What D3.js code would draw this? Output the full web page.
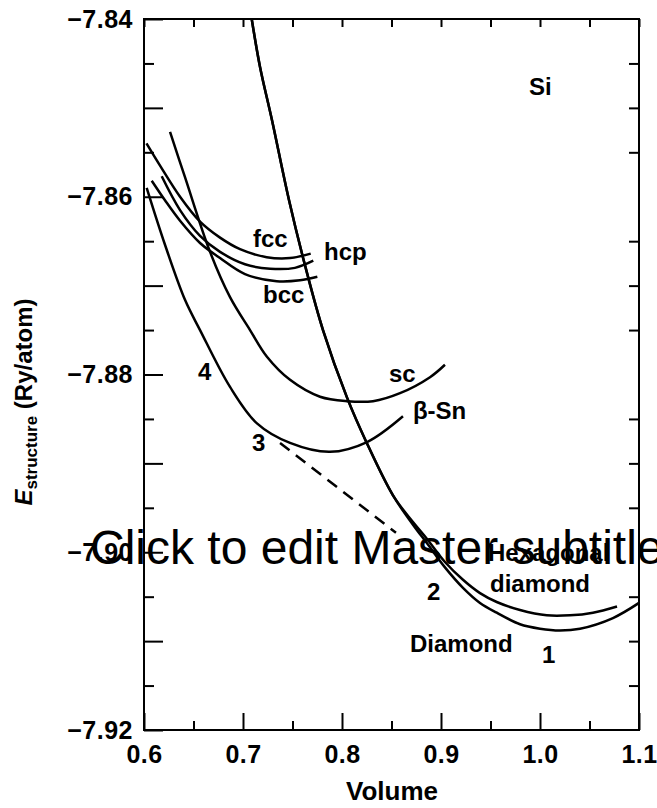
<!DOCTYPE html>
<html>
<head>
<meta charset="utf-8">
<script src="https://cdn.jsdelivr.net/npm/d3@7"></script>
<style>
  body { margin: 0; background: #fff; }
  text { font-family: "Liberation Sans", Arial, Helvetica, sans-serif; }
</style>
</head>
<body>
<div id="chart"></div>
<script>
// curves: [volume, energy (Ry/atom)]
var diamondCommon = [[0.7088, -7.8400], [0.7172, -7.8454], [0.7293, -7.8514], [0.7465, -7.8604],
   [0.7626, -7.8677], [0.7808, -7.8750], [0.8051, -7.8826], [0.8242, -7.8875], [0.8515, -7.8936]];
var diamondTail = [[0.8717, -7.8969], [0.8859, -7.8990], [0.9040, -7.9017], [0.9222, -7.9040],
   [0.9394, -7.9057], [0.9563, -7.9068], [0.9798, -7.9081], [1.0000, -7.9086], [1.0202, -7.9088],
   [1.0404, -7.9086], [1.0737, -7.9074], [1.1000, -7.9057]];
var hexTail = [[0.8717, -7.8966], [0.8859, -7.8985], [0.9040, -7.9011], [0.9222, -7.9031],
   [0.9394, -7.9046], [0.9563, -7.9056], [0.9798, -7.9065], [1.0068, -7.9071], [1.0303, -7.9071],
   [1.0535, -7.9068], [1.0778, -7.9061]];
var betaSn = [[0.6027, -7.8590], [0.6212, -7.8654], [0.6414, -7.8716], [0.6566, -7.8750],
   [0.6869, -7.8814], [0.7141, -7.8855], [0.7475, -7.8877], [0.7879, -7.8887], [0.8253, -7.8876], [0.8616, -7.8847]];
var sc = [[0.6263, -7.8527], [0.6414, -7.8578], [0.6667, -7.8662], [0.6869, -7.8713], [0.7071, -7.8750],
   [0.7242, -7.8780], [0.7475, -7.8806], [0.7778, -7.8825], [0.8051, -7.8830], [0.8313, -7.8830],
   [0.8586, -7.8821], [0.8889, -7.8803], [0.9040, -7.8789]];
var fcc = [[0.6025, -7.8540], [0.6162, -7.8565], [0.6364, -7.8600], [0.6566, -7.8628], [0.6768, -7.8646],
   [0.6970, -7.8659], [0.7239, -7.8668], [0.7475, -7.8669], [0.7684, -7.8664]];
var hcp = [[0.6179, -7.8577], [0.6364, -7.8615], [0.6566, -7.8644], [0.6768, -7.8662], [0.7020, -7.8676],
   [0.7273, -7.8681], [0.7525, -7.8680], [0.7710, -7.8672]];
var bcc = [[0.6078, -7.8582], [0.6212, -7.8604], [0.6364, -7.8627], [0.6566, -7.8652], [0.6768, -7.8669],
   [0.7020, -7.8687], [0.7340, -7.8695], [0.7576, -7.8694], [0.7751, -7.8690]];
// common tangent (dashed)
var tangent = [[0.7374, -7.8877], [0.8545, -7.8978]];

// tick values
var xMajor = [0.6, 0.7, 0.8, 0.9, 1.0, 1.1];
var xMinor = [0.65, 0.75, 0.85, 0.95, 1.05];
var yLabelled = [-7.84, -7.86, -7.88, -7.90, -7.92];
var yMajor = [-7.85, -7.87, -7.89, -7.91];
var yMinor = [-7.845, -7.855, -7.865, -7.875, -7.885, -7.895, -7.905, -7.915];

// curve labels, anchored in data space
var labels = [
   {t: 'Si', v: 0.9889, e: -7.8486}, {t: 'fcc', v: 0.7101, e: -7.8657},
   {t: 'hcp', v: 0.7818, e: -7.8671}, {t: 'bcc', v: 0.7202, e: -7.8720},
   {t: 'sc', v: 0.8475, e: -7.8808}, {t: 'β-Sn', v: 0.8717, e: -7.8850},
   {t: '4', v: 0.6545, e: -7.8806}, {t: '3', v: 0.7091, e: -7.8886},
   {t: '2', v: 0.8859, e: -7.9054}, {t: '1', v: 1.0020, e: -7.9125},
   {t: 'Hexagonal', v: 0.9475, e: -7.9010}, {t: 'diamond', v: 0.9495, e: -7.9045},
   {t: 'Diamond', v: 0.8687, e: -7.9112}
];

var W = 657, H = 808;
var pLeft = 144, pRight = 639, pTop = 19, pBottom = 730;

var svg = d3.select('#chart').append('svg').attr('width', W).attr('height', H);

var x = d3.scaleLinear().domain([0.6, 1.1]).range([pLeft, pRight]);
var y = d3.scaleLinear().domain([-7.84, -7.92]).range([pTop, pBottom]);

svg.append('clipPath').attr('id', 'plot')
   .append('rect').attr('x', pLeft).attr('y', pTop).attr('width', pRight - pLeft).attr('height', pBottom - pTop);

//ticks, all pointing inward
function styleAxis(g) {
   g.select('.domain').remove();
   g.selectAll('line').attr('stroke', '#000').attr('stroke-width', 2);
   g.selectAll('text').attr('fill', '#000').attr('font-size', '25px').attr('letter-spacing', '0.5px')
      .attr('font-weight', 'bold').attr('font-family', '"Liberation Sans", Arial, sans-serif');
}
svg.append('g').attr('transform', 'translate(0,' + pBottom + ')')
   .call(d3.axisBottom(x).tickValues(xMajor).tickSizeInner(-17).tickSizeOuter(0).tickPadding(15)
      .tickFormat(d3.format('.1f'))).call(styleAxis);
svg.append('g').attr('transform', 'translate(0,' + pBottom + ')')
   .call(d3.axisBottom(x).tickValues(xMinor).tickSizeInner(-9).tickSizeOuter(0).tickFormat('')).call(styleAxis);
svg.append('g').attr('transform', 'translate(0,' + pTop + ')')
   .call(d3.axisTop(x).tickValues(xMajor.concat(xMinor)).tickSizeInner(-8).tickSizeOuter(0).tickFormat('')).call(styleAxis);

svg.append('g').attr('transform', 'translate(' + pLeft + ',0)')
   .call(d3.axisLeft(y).tickValues(yLabelled).tickSizeInner(-19).tickSizeOuter(0).tickPadding(11)
      .tickFormat(d3.format('.2f'))).call(styleAxis);
svg.append('g').attr('transform', 'translate(' + pLeft + ',0)')
   .call(d3.axisLeft(y).tickValues(yMajor).tickSizeInner(-19).tickSizeOuter(0).tickFormat('')).call(styleAxis);
svg.append('g').attr('transform', 'translate(' + pLeft + ',0)')
   .call(d3.axisLeft(y).tickValues(yMinor).tickSizeInner(-10).tickSizeOuter(0).tickFormat('')).call(styleAxis);
svg.append('g').attr('transform', 'translate(' + pRight + ',0)')
   .call(d3.axisRight(y).tickValues(yMajor.concat(yMinor)).tickSizeInner(-10).tickSizeOuter(0).tickFormat('')).call(styleAxis);

//frame
svg.append('rect').attr('x', pLeft).attr('y', pTop).attr('width', pRight - pLeft).attr('height', pBottom - pTop)
   .attr('fill', 'none').attr('stroke', '#000').attr('stroke-width', 2);

//curves
var line = d3.line()
   .x(function (d) { return x(d[0]); })
   .y(function (d) { return y(d[1]); })
   .curve(d3.curveCatmullRom.alpha(0.5));

var curves = [diamondCommon.concat(diamondTail), diamondCommon.concat(hexTail), betaSn, sc, fcc, hcp, bcc];
svg.append('g').attr('clip-path', 'url(#plot)')
   .selectAll('path').data(curves).enter().append('path')
   .attr('d', line)
   .attr('fill', 'none').attr('stroke', '#000').attr('stroke-width', 2.5)
   .attr('stroke-linejoin', 'round');

svg.append('path').datum(tangent).attr('d', d3.line().x(function (d) { return x(d[0]); }).y(function (d) { return y(d[1]); }))
   .attr('fill', 'none').attr('stroke', '#000').attr('stroke-width', 2.5).attr('stroke-dasharray', '12,8');

//labels
svg.append('g').selectAll('text').data(labels).enter().append('text')
   .attr('x', function (d) { return x(d.v); })
   .attr('y', function (d) { return y(d.e); })
   .attr('font-size', '24px').attr('font-weight', 'bold')
   .text(function (d) { return d.t; });

//axis titles
svg.append('text').attr('x', 392).attr('y', 800).attr('text-anchor', 'middle')
   .attr('font-size', '26px').attr('font-weight', 'bold').text('Volume');

var yt = svg.append('text').attr('transform', 'translate(32,402) rotate(-90)').attr('text-anchor', 'middle')
   .attr('font-size', '24px').attr('font-weight', 'bold');
yt.append('tspan').attr('font-style', 'italic').text('E');
yt.append('tspan').attr('font-size', '17px').attr('dy', 5).text('structure');
yt.append('tspan').attr('dy', -5).text(' (Ry/atom)');

//leftover slide placeholder text
svg.append('text').attr('x', 90).attr('y', 564).attr('font-size', '48px').text('Click to edit Master subtitle');
</script>
</body>
</html>
